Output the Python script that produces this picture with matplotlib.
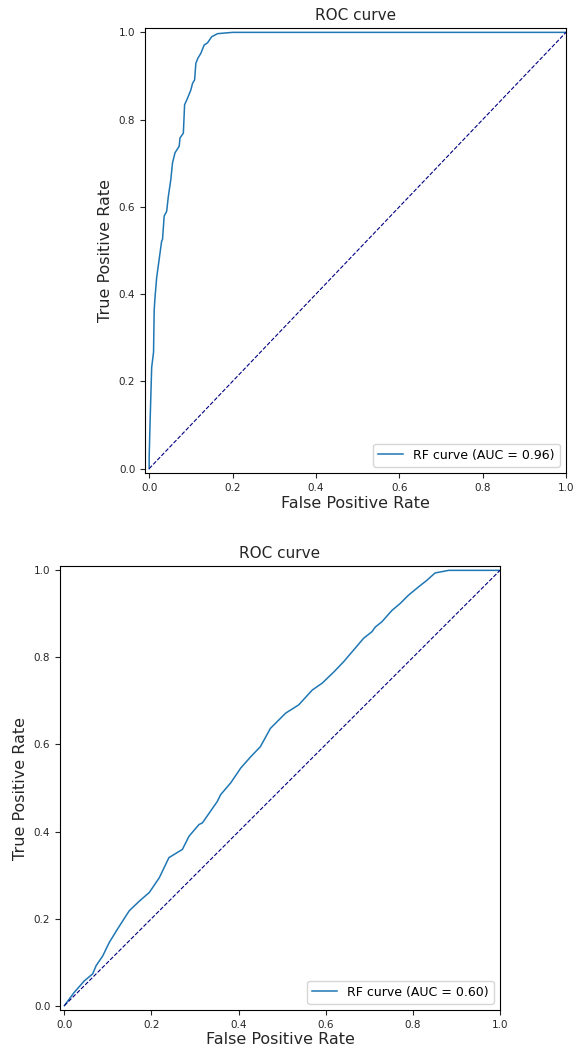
import matplotlib
matplotlib.use("Agg")
import matplotlib.pyplot as plt

# ROC curve 1 (RF, AUC = 0.96)
fpr_1 = [0.0, 0.0, 0.0024, 0.006, 0.0105, 0.012, 0.014, 0.018, 0.024, 0.030,
         0.032, 0.036, 0.042, 0.046, 0.052, 0.056, 0.062, 0.072, 0.074, 0.082,
         0.085, 0.092, 0.100, 0.104, 0.109, 0.112, 0.117, 0.124, 0.132, 0.140,
         0.150, 0.164, 0.200, 1.0]
tpr_1 = [0.0, 0.027, 0.114, 0.232, 0.267, 0.362, 0.392, 0.438, 0.480, 0.522,
         0.525, 0.579, 0.590, 0.624, 0.663, 0.701, 0.724, 0.739, 0.758, 0.769,
         0.834, 0.849, 0.868, 0.883, 0.891, 0.929, 0.941, 0.952, 0.971, 0.976,
         0.990, 0.997, 1.0, 1.0]
auc_1 = 0.96

# ROC curve 2 (RF, AUC = 0.60)
fpr_2 = [0.0, 0.023, 0.046, 0.065, 0.073, 0.088, 0.103, 0.122, 0.149, 0.172,
         0.195, 0.218, 0.240, 0.271, 0.286, 0.309, 0.317, 0.351, 0.359, 0.382,
         0.405, 0.428, 0.450, 0.473, 0.496, 0.508, 0.538, 0.569, 0.592, 0.619,
         0.641, 0.664, 0.687, 0.706, 0.714, 0.729, 0.752, 0.771, 0.790, 0.813,
         0.832, 0.851, 0.882, 1.0]
tpr_2 = [0.0, 0.031, 0.057, 0.073, 0.092, 0.114, 0.145, 0.176, 0.218, 0.240,
         0.260, 0.294, 0.340, 0.359, 0.389, 0.416, 0.420, 0.469, 0.485, 0.512,
         0.546, 0.572, 0.595, 0.637, 0.660, 0.672, 0.691, 0.725, 0.741, 0.767,
         0.790, 0.817, 0.844, 0.859, 0.870, 0.882, 0.908, 0.924, 0.943, 0.962,
         0.977, 0.994, 1.0, 1.0]
auc_2 = 0.60

W, H = 578, 1049
fig = plt.figure(figsize=(W / 100, H / 100), dpi=100)


def px_axes(left, top, right, bottom):
    return fig.add_axes([left / W, 1 - bottom / H, (right - left) / W, (bottom - top) / H])


def draw_roc(ax, fpr, tpr, auc):
    ax.plot(fpr, tpr, color='#1f77b4', lw=1.1, label='RF curve (AUC = %0.2f)' % auc)
    ax.plot([0, 1], [0, 1], color='navy', lw=0.8, linestyle='--')
    ax.set_xlim([-0.01, 1.0])
    ax.set_ylim([-0.01, 1.01])
    ax.set_xlabel('False Positive Rate', fontsize=11.5, color='#262626', labelpad=2)
    ax.set_ylabel('True Positive Rate', fontsize=11.5, color='#262626')
    ax.set_title('ROC curve', fontsize=11, color='#262626')
    ax.tick_params(labelsize=7.5, length=3.5, colors='#262626')
    ax.legend(loc='lower right', fontsize=9)


ax1 = px_axes(145, 28, 566, 473)
draw_roc(ax1, fpr_1, tpr_1, auc_1)

ax2 = px_axes(60, 566, 500, 1010)
draw_roc(ax2, fpr_2, tpr_2, auc_2)

fig.savefig('out.png', dpi=100)
